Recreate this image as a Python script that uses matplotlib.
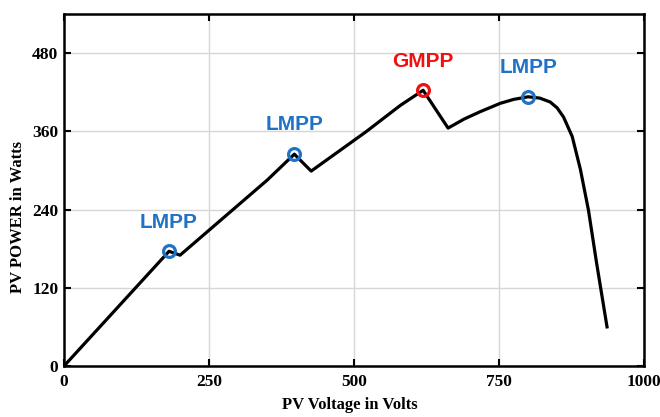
import matplotlib
matplotlib.use("Agg")
import matplotlib.pyplot as plt

# P-V curve of the partially shaded array
voltage = [0, 181, 200, 350, 397, 426, 520, 580, 619, 662, 690, 717, 752, 775,
           800, 820, 838, 850, 861, 876, 890, 904, 918, 936]
power = [0, 176, 170, 285, 325, 299, 359, 400, 423, 365, 379, 390, 403, 409,
         413, 411, 405, 396, 382, 352, 302, 239, 158, 60]

# local and global maximum power points
lmpp_v = [181, 397, 800]
lmpp_p = [176, 325, 413]
gmpp_v = [619]
gmpp_p = [423]

x_ticks = [0, 250, 500, 750, 1000]
y_ticks = [0, 120, 240, 360, 480]

blue = "#1f72c4"
red = "#f01010"

plt.rcParams["font.family"] = "Liberation Serif"
plt.rcParams["font.weight"] = "bold"

fig = plt.figure(figsize=(6.6, 4.17), dpi=100)
ax = fig.add_axes([0.097, 0.1223, 0.879, 0.8441])

ax.plot(voltage, power, color="black", lw=2.3, solid_joinstyle="round", zorder=3)
ax.plot(lmpp_v, lmpp_p, "o", mfc="none", mec=blue, mew=2.3, ms=8.5, zorder=4)
ax.plot(gmpp_v, gmpp_p, "o", mfc="none", mec=red, mew=2.3, ms=8.5, zorder=4)

for v, p in zip(lmpp_v, lmpp_p):
    ax.annotate("LMPP", (v, p), xytext=(0, 21), textcoords="offset points",
                ha="center", va="center", color=blue, fontsize=15,
                fontweight="bold", family="Liberation Sans")
for v, p in zip(gmpp_v, gmpp_p):
    ax.annotate("GMPP", (v, p), xytext=(0, 21), textcoords="offset points",
                ha="center", va="center", color=red, fontsize=15,
                fontweight="bold", family="Liberation Sans")

ax.set_xlim(0, 1000)
ax.set_ylim(0, 540)
ax.set_xticks(x_ticks)
ax.set_yticks(y_ticks)
ax.grid(True, color="#d6d6d6", lw=1)
ax.set_axisbelow(True)

ax.tick_params(direction="in", top=True, right=True, length=5, width=1.5,
               labelsize=12.5)
ax.tick_params(axis="x", pad=6)
ax.tick_params(axis="y", pad=4)
for s in ax.spines.values():
    s.set_linewidth(1.8)

ax.set_xlabel("PV Voltage in Volts", fontsize=12, fontweight="bold")
ax.set_ylabel("PV POWER in Watts", fontsize=12, fontweight="bold")
ax.xaxis.set_label_coords(0.493, -0.088)
ax.yaxis.set_label_coords(-0.066, 0.423)

fig.savefig("out.png", dpi=100)
